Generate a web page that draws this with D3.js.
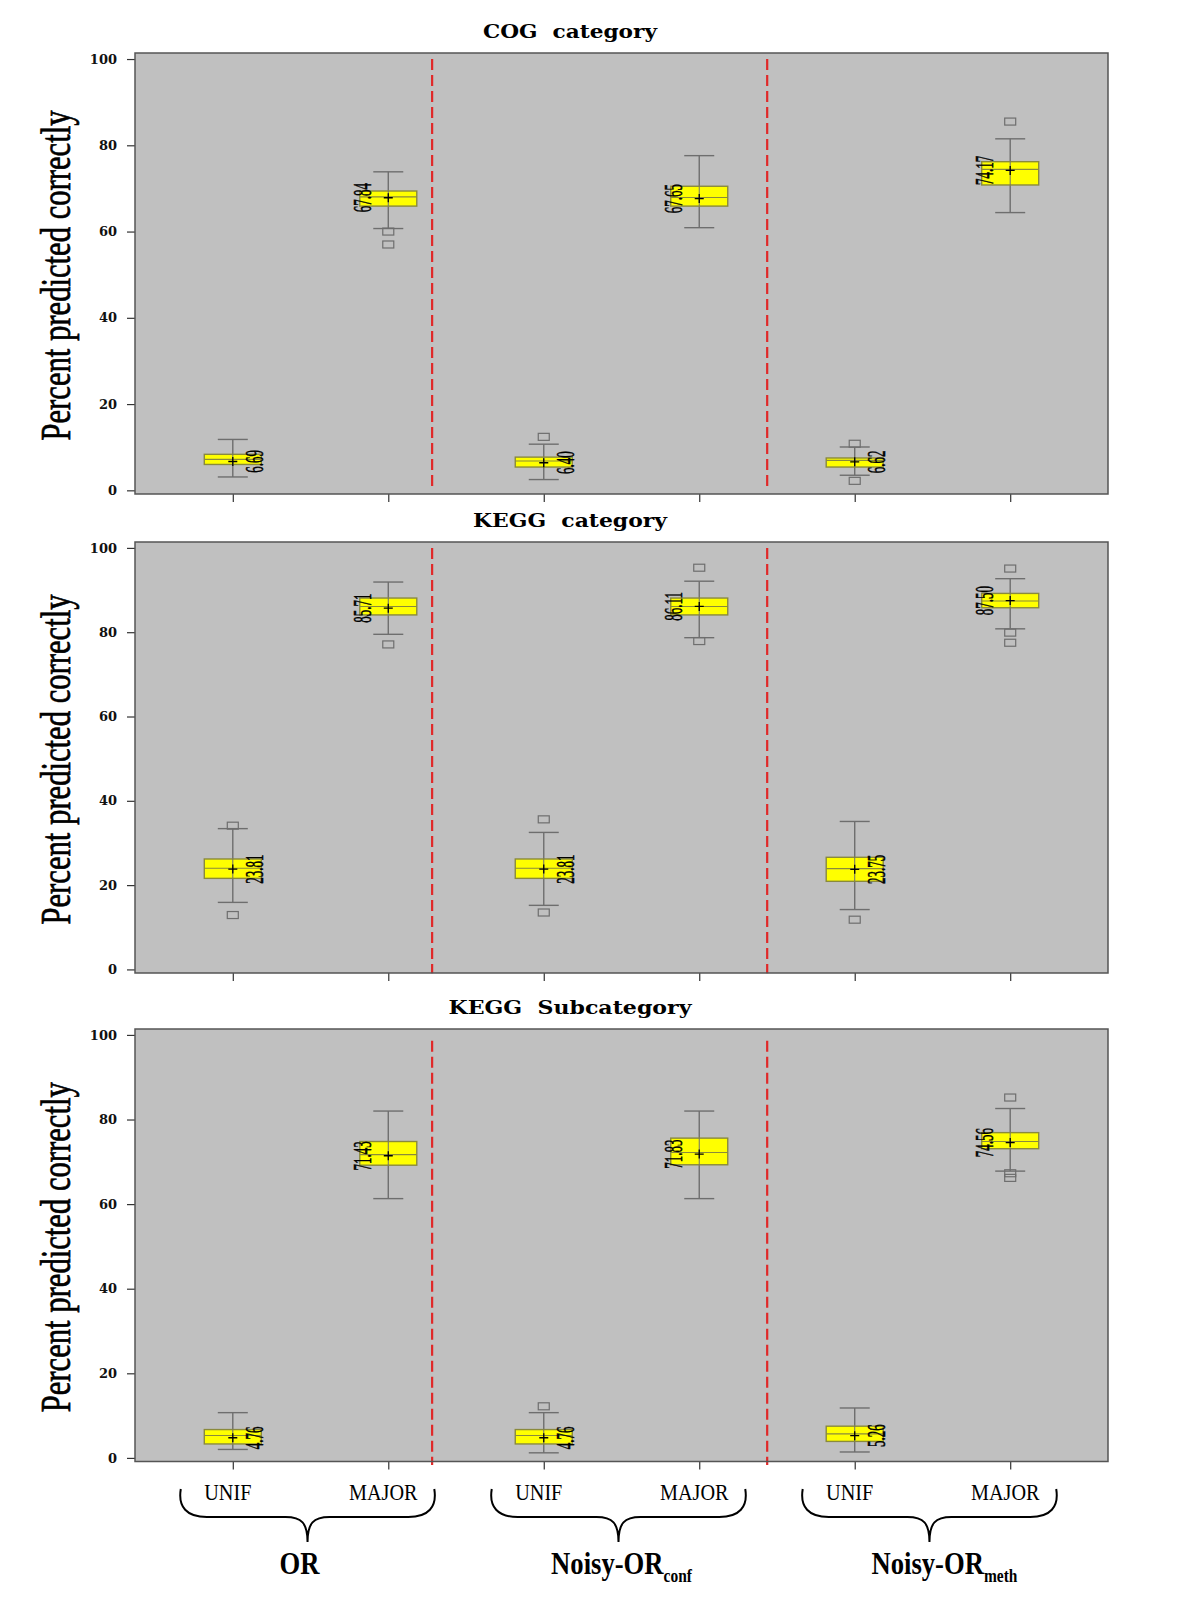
<!DOCTYPE html>
<html><head><meta charset="utf-8">
<script src="https://cdn.jsdelivr.net/npm/d3@7"></script>
<style>body{margin:0;background:#fff}svg{display:block}</style>
</head><body>
<script>
// ---------- data ----------
const predictors = ["UNIF", "MAJOR"];
const methodNames = ["OR", "Noisy-OR", "Noisy-OR"];
const methodSubs = ["", "conf", "meth"];
const categories = ["OR-UNIF", "OR-MAJOR", "conf-UNIF", "conf-MAJOR", "meth-UNIF", "meth-MAJOR"];
const panelTitles = ["COG\u00a0\u00a0category", "KEGG\u00a0\u00a0category", "KEGG\u00a0\u00a0Subcategory"];
const yTicks = [0, 20, 40, 60, 80, 100];
const yLabel = "Percent predicted correctly";

// [lower whisker, Q1, median, Q3, upper whisker]
const cogStats = [
  [3.1, 6.0, 7.2, 8.35, 11.8],
  [60.7, 65.9, 68.05, 69.4, 73.85],
  [2.5, 5.4, 6.8, 7.7, 10.7],
  [60.9, 65.9, 67.9, 70.5, 77.6],
  [3.5, 5.4, 6.95, 7.5, 10.05],
  [64.4, 70.8, 74.4, 76.2, 81.5]
];
const cogMeans = [6.69, 67.84, 6.40, 67.65, 6.62, 74.17];
const cogOutliers = [[], [60.0, 57.0], [12.4], [], [10.8, 2.2], [85.5]];

const keggStats = [
  [15.9, 21.6, 24.0, 26.2, 33.4],
  [79.5, 84.1, 86.1, 88.1, 91.9],
  [15.2, 21.6, 24.0, 26.2, 32.5],
  [78.7, 84.1, 86.1, 88.1, 92.1],
  [14.2, 20.9, 23.9, 26.6, 35.1],
  [80.8, 85.8, 87.4, 89.2, 92.7]
];
const keggMeans = [23.81, 85.71, 23.81, 86.11, 23.75, 87.50];
const keggOutliers = [[34.1, 12.9], [77.1], [35.6, 13.5], [95.3, 77.9], [11.8], [95.1, 79.9, 77.5]];

const subStats = [
  [2.0, 3.3, 5.3, 6.7, 10.7],
  [61.3, 69.2, 71.7, 74.8, 82.0],
  [1.2, 3.3, 5.3, 6.7, 10.7],
  [61.3, 69.3, 72.2, 75.6, 82.0],
  [1.4, 3.9, 5.7, 7.5, 11.8],
  [67.8, 73.1, 74.8, 76.9, 82.6]
];
const subMeans = [4.76, 71.43, 4.76, 71.83, 5.26, 74.56];
const subOutliers = [[], [], [12.2], [], [], [85.2, 67.3, 66.2]];

const panelStats = [cogStats, keggStats, subStats];
const panelMeans = [cogMeans, keggMeans, subMeans];
const panelOutliers = [cogOutliers, keggOutliers, subOutliers];

// ---------- layout ----------
const W = 1200, H = 1601;
const plotL = 135, plotR = 1108;
const panelTop = [53, 542, 1029];
const panelH = [441, 431, 432.5];
const titleLen = [174, 194, 243];
const sepIdx = [1.282, 3.437];
const sepExtent = [[100, 0.7], [100, -0.9], [98.6, -1.7]];
const groupLabelShift = [-8, 3, 15];

const svg = d3.select("body").append("svg").attr("width", W).attr("height", H);

const x = d3.scalePoint().domain(categories).range([plotL, plotR]).padding(0.629);
const xi = d3.scaleLinear().domain([0, categories.length - 1])
  .range([x(categories[0]), x(categories[categories.length - 1])]);

const boxHalf = 28.5, capHalf = 15;
const whiskerCol = "#6e6e6e", boxStroke = "#8a8a3c";

panelTitles.forEach((title, p) => {
  const top = panelTop[p], h = panelH[p];
  const y = d3.scaleLinear().domain([-0.85, 101.4]).range([top + h, top]);
  const g = svg.append("g");

  g.append("rect").attr("x", plotL).attr("y", top).attr("width", plotR - plotL).attr("height", h)
    .attr("fill", "#c0c0c0");

  // separators
  sepIdx.forEach(s => {
    g.append("line").attr("x1", xi(s)).attr("x2", xi(s))
      .attr("y1", y(sepExtent[p][0])).attr("y2", y(sepExtent[p][1]))
      .attr("stroke", "#e02828").attr("stroke-width", 2.2).attr("stroke-dasharray", "11,5");
  });

  // y axis
  const ya = g.append("g").attr("transform", `translate(${plotL},0)`)
    .call(d3.axisLeft(y).tickValues(yTicks).tickSize(8).tickPadding(10));
  ya.select(".domain").remove();
  ya.selectAll(".tick line").attr("stroke", "#333").attr("stroke-width", 1.2);
  ya.selectAll(".tick text").attr("font-family", "DejaVu Serif").attr("font-weight", "bold")
    .attr("font-size", 13).attr("fill", "#111");

  // x axis ticks
  const xa = g.append("g").attr("transform", `translate(0,${top + h})`)
    .call(d3.axisBottom(x).tickSize(8).tickFormat(""));
  xa.select(".domain").remove();
  xa.selectAll(".tick line").attr("stroke", "#333").attr("stroke-width", 1.2);

  // frame
  g.append("rect").attr("x", plotL).attr("y", top).attr("width", plotR - plotL).attr("height", h)
    .attr("fill", "none").attr("stroke", "#555").attr("stroke-width", 1.5);

  // boxes
  const stats = panelStats[p], means = panelMeans[p], outs = panelOutliers[p];
  categories.forEach((c, i) => {
    const cx = x(c);
    const [lo, q1, md, q3, hi] = stats[i];
    const bg = g.append("g");
    bg.append("line").attr("x1", cx).attr("x2", cx).attr("y1", y(hi)).attr("y2", y(lo))
      .attr("stroke", whiskerCol).attr("stroke-width", 1.4);
    [lo, hi].forEach(v => bg.append("line").attr("x1", cx - capHalf).attr("x2", cx + capHalf)
      .attr("y1", y(v)).attr("y2", y(v)).attr("stroke", whiskerCol).attr("stroke-width", 1.4));
    bg.append("rect").attr("x", cx - boxHalf).attr("width", boxHalf * 2)
      .attr("y", y(q3)).attr("height", y(q1) - y(q3))
      .attr("fill", "#ffff00").attr("stroke", boxStroke).attr("stroke-width", 1.4);
    bg.append("line").attr("x1", cx - boxHalf).attr("x2", cx + boxHalf)
      .attr("y1", y(md)).attr("y2", y(md)).attr("stroke", boxStroke).attr("stroke-width", 1.2);
    bg.append("line").attr("x1", cx).attr("x2", cx).attr("y1", y(q3)).attr("y2", y(q1))
      .attr("stroke", whiskerCol).attr("stroke-width", 1);
    outs[i].forEach(v => bg.append("rect").attr("x", cx - 5.5).attr("y", y(v) - 3.5)
      .attr("width", 11).attr("height", 7).attr("fill", "none")
      .attr("stroke", whiskerCol).attr("stroke-width", 1.2));
    // mean marker
    const my = y(means[i]);
    bg.append("path").attr("d", `M${cx - 4.5},${my}H${cx + 4.5}M${cx},${my - 4.5}V${my + 4.5}`)
      .attr("stroke", "#000").attr("stroke-width", 1.3);
    // value label
    const isUnif = i % 2 === 0;
    const lx = isUnif ? cx + 30 : cx - 17;
    bg.append("text").attr("transform", `translate(${lx},${my}) rotate(-90) scale(0.52,1)`)
      .attr("text-anchor", "middle").attr("font-family", "Liberation Serif")
      .attr("font-size", 25).attr("fill", "#000").attr("stroke", "#000").attr("stroke-width", 0.5)
      .text(means[i].toFixed(2));
  });

  // title
  g.append("text").attr("x", 570).attr("y", top - 15).attr("text-anchor", "middle")
    .attr("font-family", "DejaVu Serif").attr("font-weight", "bold").attr("font-size", 18)
    .attr("textLength", titleLen[p]).attr("lengthAdjust", "spacingAndGlyphs").text(title);

  // y label (horizontally condensed via scale)
  g.append("text").attr("transform", `translate(70,${top + h / 2 + 2}) rotate(-90) scale(0.73,1)`)
    .attr("text-anchor", "middle").attr("font-family", "Liberation Serif").attr("font-size", 42)
    .attr("fill", "#000").attr("stroke", "#000").attr("stroke-width", 0.7)
    .text(yLabel);
});

// bottom category labels
categories.forEach((c, i) => {
  svg.append("text").attr("transform", `translate(${x(c) - 5},1500) scale(0.92,1.08)`)
    .attr("text-anchor", "middle")
    .attr("font-family", "Liberation Serif").attr("font-size", 22).attr("fill", "#000")
    .text(predictors[i % 2]);
});

// braces and group labels
methodNames.forEach((m, k) => {
  const xl = x(categories[2 * k]) - 52, xr = x(categories[2 * k + 1]) + 46, xc = (xl + xr) / 2;
  const yt = 1489, yh = 1517, yb = 1542;
  const d = `M${xl},${yt} C${xl - 3},${yt + 18} ${xl + 6},${yh} ${xl + 26},${yh}` +
    ` L${xc - 22},${yh} C${xc - 6},${yh} ${xc},${yh + 6} ${xc},${yb}` +
    ` C${xc},${yh + 6} ${xc + 6},${yh} ${xc + 22},${yh}` +
    ` L${xr - 26},${yh} C${xr - 6},${yh} ${xr + 3},${yt + 18} ${xr},${yt}`;
  svg.append("path").attr("d", d).attr("fill", "none").attr("stroke", "#000").attr("stroke-width", 2);
  const t = svg.append("text")
    .attr("transform", `translate(${xc + groupLabelShift[k]},1574) scale(0.86,1)`)
    .attr("text-anchor", "middle")
    .attr("font-family", "Liberation Serif").attr("font-weight", "bold").attr("font-size", 31)
    .attr("fill", "#000");
  t.append("tspan").text(m);
  if (methodSubs[k]) t.append("tspan").attr("dy", 8).attr("font-size", 18).text(methodSubs[k]);
});
</script>
</body></html>
